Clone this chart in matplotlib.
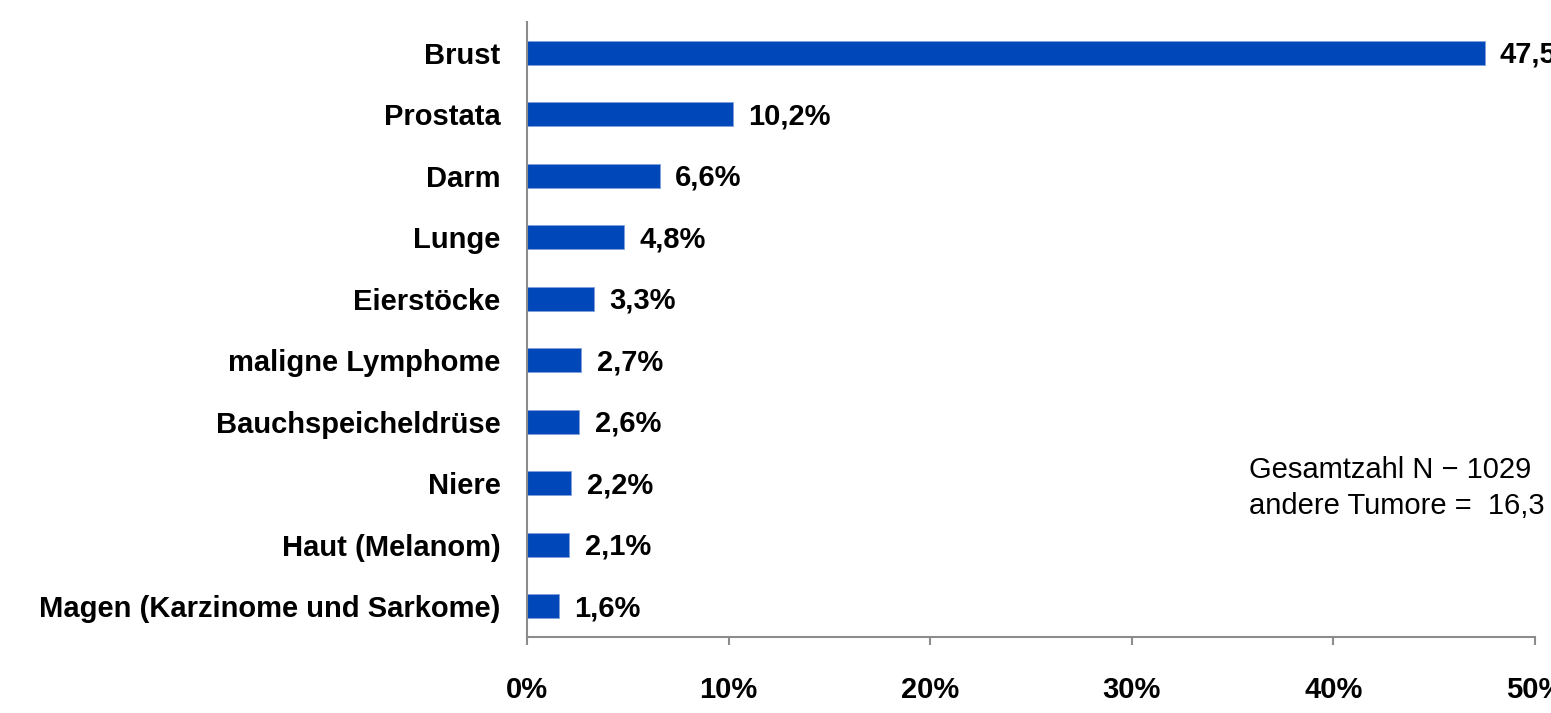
import matplotlib
matplotlib.use("Agg")
import matplotlib.pyplot as plt

# tumour sites and their share of all cases (percent)
sites = ["Brust", "Prostata", "Darm", "Lunge", "Eierstöcke", "maligne Lymphome",
         "Bauchspeicheldrüse", "Niere", "Haut (Melanom)", "Magen (Karzinome und Sarkome)"]
shares = [47.5, 10.2, 6.6, 4.8, 3.3, 2.7, 2.6, 2.2, 2.1, 1.6]
xticks = [0, 10, 20, 30, 40, 50]
note_lines = ["Gesamtzahl N \u2212 1029", "andere Tumore =  16,3"]

plt.rcParams["font.family"] = ["Liberation Sans", "DejaVu Sans"]
FS = 21

fig = plt.figure(figsize=(15.51, 7.13), dpi=100)
ax = fig.add_axes([0.3398, 0.1066, 0.6499, 0.8625])

pos = list(range(len(sites)))
ax.barh(pos, shares, height=0.39, color="#0048BA", edgecolor="#7FA0DA", linewidth=0.6)
ax.set_ylim(len(sites) - 0.5, -0.5)
ax.set_xlim(0, 50)

for p, v in zip(pos, shares):
    ax.annotate(f"{v:.1f}%".replace(".", ","), (v, p), xytext=(11, -1.5),
                textcoords="offset points", va="center", ha="left",
                fontsize=FS, fontweight="bold", annotation_clip=False)

ax.set_yticks(pos)
ax.set_yticklabels(sites, fontsize=FS, fontweight="bold")
ax.set_xticks(xticks)
ax.set_xticklabels([f"{t}%" for t in xticks], fontsize=FS, fontweight="bold")

for s in ["top", "right"]:
    ax.spines[s].set_visible(False)
for s in ["left", "bottom"]:
    ax.spines[s].set_color("#8C8C8C")
    ax.spines[s].set_linewidth(1.5)
ax.tick_params(axis="y", length=0, pad=19)
ax.tick_params(axis="x", direction="out", length=6, width=1.5, color="#8C8C8C", pad=22)

fig.text(0.8053, 0.316, "\n".join(note_lines), fontsize=FS, ha="left", va="center",
         linespacing=1.35)

fig.savefig("out.png", dpi=100)
